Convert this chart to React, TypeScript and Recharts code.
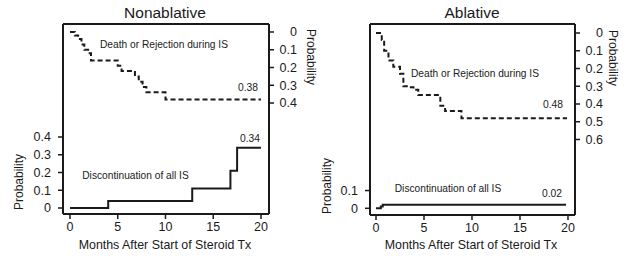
import { ComposedChart, Line, XAxis, YAxis } from 'recharts';

// Nonablative panel
const nonDeathMonths = [0, 0.5, 0.85, 1.2, 1.5, 1.9, 2.2, 5.0, 5.4, 6.8, 7.2, 7.6, 8.0, 10.0, 20];
const nonDeathProb = [0, 0.02, 0.04, 0.07, 0.1, 0.12, 0.16, 0.19, 0.22, 0.25, 0.28, 0.31, 0.34, 0.38, 0.38];
const nonStopMonths = [0, 4.0, 12.8, 16.8, 17.5, 20];
const nonStopProb = [0, 0.04, 0.11, 0.21, 0.34, 0.34];

// Ablative panel
const ablDeathMonths = [0, 0.6, 0.85, 1.3, 1.8, 2.5, 2.85, 3.4, 3.9, 4.4, 6.7, 7.2, 8.9, 19.9];
const ablDeathProb = [0, 0.04, 0.1, 0.155, 0.19, 0.23, 0.3, 0.305, 0.32, 0.35, 0.41, 0.44, 0.48, 0.48];
const ablStopMonths = [0, 0.5, 0.7, 19.8];
const ablStopProb = [0, 0.01, 0.02, 0.02];

const monthTicks = [0, 5, 10, 15, 20];
const nonLeftTicks = [0, 0.1, 0.2, 0.3, 0.4];
const nonRightTicks = [0, 0.1, 0.2, 0.3, 0.4];
const ablLeftTicks = [0, 0.1];
const ablRightTicks = [0, 0.1, 0.2, 0.3, 0.4, 0.5, 0.6];

const FONT = '"Liberation Sans", Arial, sans-serif';
const INK = '#1a1a1a';

const toPoints = (months: number[], prob: number[]) =>
  months.map((m, i) => ({ m, p: prob[i] }));

const tickStyle = { fontSize: 12.5, fill: INK, fontFamily: FONT };

function RightTick(props: any) {
  const { x, y, payload } = props;
  return (
    <text x={x + 23} y={y} dy="0.35em" textAnchor="end" style={tickStyle}>
      {String(payload.value)}
    </text>
  );
}

interface PanelProps {
  width: number;
  leftW: number;
  rightW: number;
  bottomH: number;
  xDomain: [number, number];
  leftDomain: [number, number];
  rightDomain: [number, number];
  leftTicks: number[];
  rightTicks: number[];
  death: { m: number; p: number }[];
  stop: { m: number; p: number }[];
}

function Panel(p: PanelProps) {
  return (
    <ComposedChart
      width={p.width}
      height={256}
      margin={{ top: 0, right: 0, bottom: 0, left: 0 }}
      style={{ fontFamily: FONT }}
    >
      <XAxis
        xAxisId="bottom"
        dataKey="m"
        type="number"
        domain={p.xDomain}
        allowDataOverflow
        ticks={monthTicks}
        interval={0}
        height={p.bottomH}
        tickSize={5}
        tickMargin={3}
        tick={tickStyle}
        stroke={INK}
        axisLine={{ stroke: INK, strokeWidth: 2 }}
        tickLine={{ stroke: INK, strokeWidth: 1.5 }}
      />
      <XAxis
        xAxisId="top"
        orientation="top"
        dataKey="m"
        type="number"
        domain={p.xDomain}
        allowDataOverflow
        ticks={monthTicks}
        interval={0}
        height={24}
        tickSize={5}
        tick={false}
        stroke={INK}
        axisLine={{ stroke: INK, strokeWidth: 2 }}
        tickLine={{ stroke: INK, strokeWidth: 1.5 }}
      />
      <YAxis
        yAxisId="left"
        type="number"
        domain={p.leftDomain}
        allowDataOverflow
        ticks={p.leftTicks}
        interval={0}
        width={p.leftW}
        tickSize={5}
        tickMargin={7}
        tick={tickStyle}
        stroke={INK}
        axisLine={{ stroke: INK, strokeWidth: 2 }}
        tickLine={{ stroke: INK, strokeWidth: 1.5 }}
      />
      <YAxis
        yAxisId="right"
        orientation="right"
        type="number"
        reversed
        domain={p.rightDomain}
        allowDataOverflow
        ticks={p.rightTicks}
        interval={0}
        width={p.rightW}
        tickSize={5}
        tickMargin={0}
        tick={<RightTick />}
        stroke={INK}
        axisLine={{ stroke: INK, strokeWidth: 2 }}
        tickLine={{ stroke: INK, strokeWidth: 1.5 }}
      />
      <Line
        xAxisId="bottom"
        yAxisId="right"
        data={p.death}
        dataKey="p"
        type="stepAfter"
        stroke={INK}
        strokeWidth={2}
        strokeDasharray="5 3"
        dot={false}
        isAnimationActive={false}
      />
      <Line
        xAxisId="bottom"
        yAxisId="left"
        data={p.stop}
        dataKey="p"
        type="stepAfter"
        stroke={INK}
        strokeWidth={2}
        dot={false}
        isAnimationActive={false}
      />
    </ComposedChart>
  );
}

function Overlay() {
  const t = (x: number, y: number, s: string, size: number, extra: any = {}) => (
    <text x={x} y={y} textAnchor="middle" fontSize={size} fill={INK} fontFamily={FONT} {...extra}>
      {s}
    </text>
  );
  const vert = (cx: number, cy: number, angle: number) => (
    <text
      x={cx}
      y={cy}
      dy="0.35em"
      textAnchor="middle"
      fontSize={12}
      fill={INK}
      fontFamily={FONT}
      transform={`rotate(${angle}, ${cx}, ${cy})`}
    >
      Probability
    </text>
  );
  return (
    <svg width={629} height={256} style={{ position: 'absolute', left: 0, top: 0, pointerEvents: 'none' }}>
      {t(165, 18, 'Nonablative', 15.5)}
      {t(472, 18, 'Ablative', 15.5)}
      {t(165, 249, 'Months After Start of Steroid Tx', 12.4)}
      {t(471, 249, 'Months After Start of Steroid Tx', 12.4)}
      {vert(19, 182, -90)}
      {vert(311, 57, 90)}
      {vert(327, 186, -90)}
      {vert(613, 58, 90)}
      {t(164, 48, 'Death or Rejection during IS', 10.2)}
      {t(475, 76.5, 'Death or Rejection during IS', 10.2)}
      {t(135.5, 178.5, 'Discontinuation of all IS', 10.2)}
      {t(448, 192, 'Discontinuation of all IS', 10.2)}
      {t(248, 90.5, '0.38', 10.3)}
      {t(553, 107.5, '0.48', 10.3)}
      {t(250, 141.5, '0.34', 10.3)}
      {t(552, 196.5, '0.02', 10.3)}
    </svg>
  );
}

export default function App() {
  return (
    <div style={{ position: 'absolute', left: 0, top: 0, width: 629, height: 256, background: '#fff' }}>
      <div style={{ position: 'absolute', left: 0, top: 0 }}>
        <Panel
          width={320}
          leftW={63}
          rightW={51}
          bottomH={42}
          xDomain={[-0.733, 20.84]}
          leftDomain={[-0.0338, 1.0366]}
          rightDomain={[-0.045, 1.025]}
          leftTicks={nonLeftTicks}
          rightTicks={nonRightTicks}
          death={toPoints(nonDeathMonths, nonDeathProb)}
          stop={toPoints(nonStopMonths, nonStopProb)}
        />
      </div>
      <div style={{ position: 'absolute', left: 320, top: 0 }}>
        <Panel
          width={309}
          leftW={50}
          rightW={54}
          bottomH={41}
          xDomain={[-0.625, 20.73]}
          leftDomain={[-0.0377, 1.038]}
          rightDomain={[-0.0507, 1.0254]}
          leftTicks={ablLeftTicks}
          rightTicks={ablRightTicks}
          death={toPoints(ablDeathMonths, ablDeathProb)}
          stop={toPoints(ablStopMonths, ablStopProb)}
        />
      </div>
      <Overlay />
    </div>
  );
}
